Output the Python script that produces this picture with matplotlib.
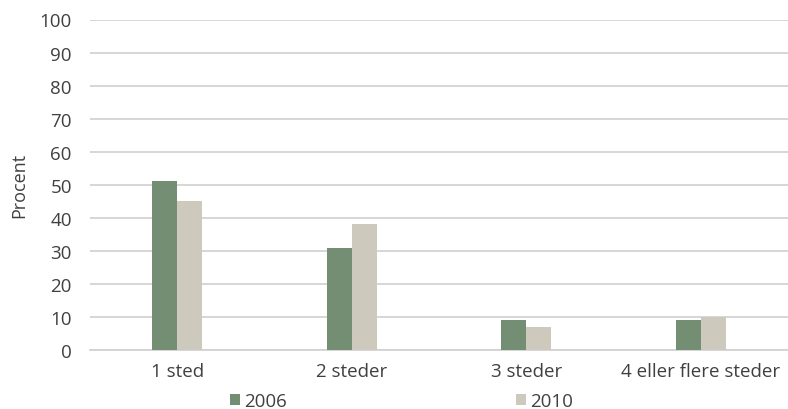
import matplotlib.pyplot as plt
import numpy as np

plt.rcParams['font.family'] = ['Open Sans', 'DejaVu Sans']

categories = ['1 sted', '2 steder', '3 steder', '4 eller flere steder']
years = ['2006', '2010']
values_2006 = [51, 31, 9, 9]
values_2010 = [45, 38, 7, 10]
colors = ['#748e73', '#cdc9bd']
text_color = '#404040'

fig = plt.figure(figsize=(7.88, 4.10), dpi=100)
ax = fig.add_axes([0.114, 0.144, 0.886, 0.806])

x = np.arange(len(categories))
w = 0.143
ax.bar(x - w / 2, values_2006, width=w, color=colors[0], label=years[0], zorder=3)
ax.bar(x + w / 2, values_2010, width=w, color=colors[1], label=years[1], zorder=3)

ax.set_xlim(-0.5, len(categories) - 0.5)
ax.set_ylim(0, 100)
ax.set_yticks(range(0, 101, 10))
ax.set_xticks(x)
ax.set_xticklabels(categories)
ax.yaxis.grid(True, color='#d0d0d0', linewidth=1.2, zorder=0)
ax.tick_params(axis='both', length=0, labelsize=13.5, colors=text_color)
ax.tick_params(axis='y', pad=13)
ax.tick_params(axis='x', pad=9)
for s in ['top', 'right', 'left']:
    ax.spines[s].set_visible(False)
ax.spines['bottom'].set_color('#d0d0d0')
ax.spines['bottom'].set_linewidth(1.2)
ax.set_ylabel('Procent', fontsize=13, color=text_color, labelpad=8)

fig.legend(loc='lower left', bbox_to_anchor=(0.292, -0.002), ncol=2, frameon=False,
           borderpad=0, borderaxespad=0,
           handlelength=0.55, handleheight=0.55, handletextpad=0.2,
           columnspacing=12.2, fontsize=13.5, labelcolor=text_color)

fig.savefig('out.png', dpi=100)
